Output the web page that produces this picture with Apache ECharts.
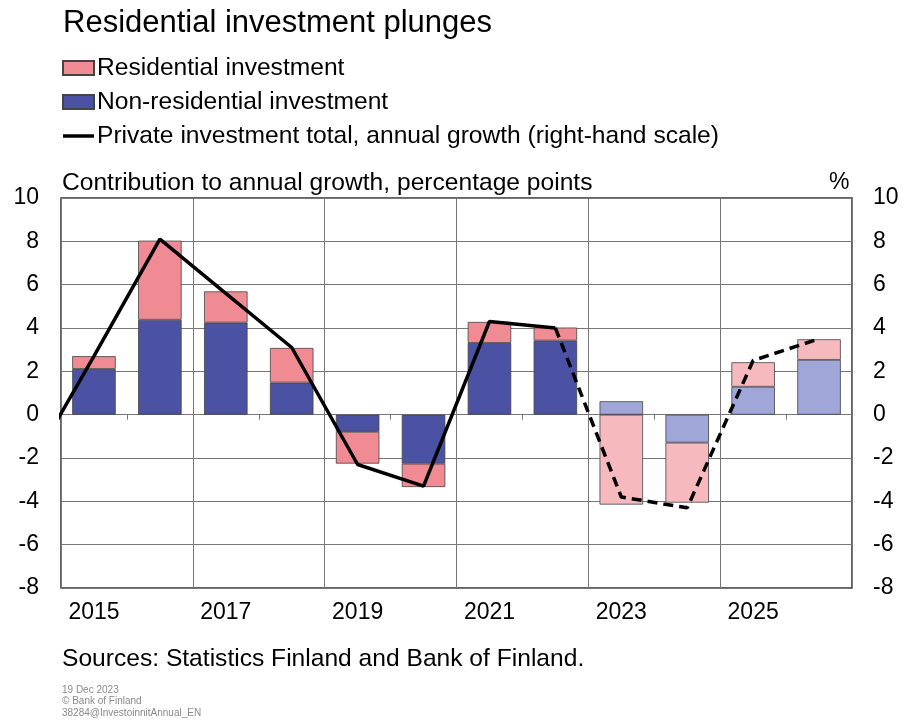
<!DOCTYPE html>
<html>
<head>
<meta charset="utf-8">
<script src="https://cdn.jsdelivr.net/npm/echarts@6/dist/echarts.min.js"></script>
<style>
  html, body { margin: 0; padding: 0; background: #fff; }
  #chart { width: 904px; height: 724px; }
</style>
</head>
<body>
<div id="chart"></div>
<script>
var years = ['2015','2016','2017','2018','2019','2020','2021','2022','2023','2024','2025','2026'];
var firstForecast = 8; // 2023 onwards drawn in pale colours
var nonResidential = [2.11, 4.38, 4.25, 1.48, -0.79, -2.26, 3.31, 3.42, 0.62, -1.29, 1.29, 2.53];
var residential    = [0.59, 3.65, 1.44, 1.60, -1.47, -1.08, 0.97, 0.60, -4.15, -2.77, 1.13, 0.95];
// private investment total, annual growth (%), right-hand scale
var growthYears = [2014, 2015, 2016, 2017, 2018, 2019, 2020, 2021, 2022, 2023, 2024, 2025, 2026];
var growth      = [-2.6, 2.7, 8.1, 5.6, 3.1, -2.3, -3.3, 4.3, 4.0, -3.8, -4.3, 2.5, 3.5];
var lastActual = 2022;
var yTicks = {min: -8, max: 10, interval: 2};

var nameRes = 'Residential investment';
var nameNonRes = 'Non-residential investment';
var nameLine = 'Private investment total, annual growth (right-hand scale)';

var pink = '#f08a93', pinkPale = '#f6b9be';
var blue = '#4b52a3', bluePale = '#a1a6d8';

function barData(vals, dark, pale){
	var out = [];
	for(var i=0;i<vals.length;i++){
		out.push({value: vals[i], itemStyle: {color: i>=firstForecast ? pale : dark}});
	}
	return out;
}
var solid = [], dashed = [];
for(var i=0;i<growthYears.length;i++){
	if(growthYears[i]<=lastActual) solid.push([growthYears[i], growth[i]]);
	if(growthYears[i]>=lastActual) dashed.push([growthYears[i], growth[i]]);
}

var font = 'Liberation Sans, Arial, sans-serif';

var option = {
	animation: false,
	textStyle: {fontFamily: font},
	title: {
		text: 'Residential investment plunges',
		left: 58, top: 3,
		textStyle: {fontSize: 31, fontWeight: 'normal', color: '#000', fontFamily: font}
	},
	legend: {
		orient: 'vertical',
		left: 62, top: 55,
		itemWidth: 31, itemHeight: 14,
		itemGap: 8,
		padding: 0,
		selectedMode: false,
		textStyle: {fontSize: 24.6, color: '#000', lineHeight: 26, padding: [0,0,0,-2]},
		data: [
			{name: nameRes, icon: 'rect'},
			{name: nameNonRes, icon: 'rect'},
			{name: nameLine, icon: 'path://M0,0H31V3.5H0Z', itemStyle: {color: '#000', borderWidth: 0}}
		]
	},
	grid: {
		left: 61, right: 52, top: 198, bottom: 136,
		show: true, borderColor: '#333', borderWidth: 1.5, backgroundColor: '#fff'
	},
	xAxis: [
		{
			type: 'category', data: years, gridIndex: 0,
			axisLine: {show: false, onZero: false},
			axisTick: {show: false, interval: 1},
			axisLabel: {interval: 1, fontSize: 23, color: '#000', margin: 13},
			splitLine: {show: true, interval: 1, lineStyle: {color: '#777', width: 1}}
		},
		{
			// small upward ticks on the zero line
			type: 'category', data: years, gridIndex: 0,
			axisLine: {show: true, onZero: true, lineStyle: {color: '#777', width: 1}},
			axisTick: {show: true, inside: true, length: 5, interval: 0, lineStyle: {color: '#777'}},
			axisLabel: {show: false},
			splitLine: {show: false}
		},
		{
			type: 'value', min: 2014.5, max: 2026.5, show: false, gridIndex: 0
		}
	],
	yAxis: [
		{
			type: 'value', min: yTicks.min, max: yTicks.max, interval: yTicks.interval,
			axisLine: {show: false}, axisTick: {show: false},
			axisLabel: {fontSize: 23, color: '#000', margin: 22},
			splitLine: {lineStyle: {color: '#777', width: 1}}
		},
		{
			type: 'value', position: 'right', min: yTicks.min, max: yTicks.max, interval: yTicks.interval,
			axisLine: {show: false}, axisTick: {show: false},
			axisLabel: {fontSize: 23, color: '#000', margin: 21},
			splitLine: {show: false}
		}
	],
	graphic: [
		{type: 'text', left: 62, top: 171, style: {text: 'Contribution to annual growth, percentage points', fontSize: 24.6, fill: '#000', fontFamily: font}},
		{type: 'text', left: 829, top: 171, style: {text: '%', fontSize: 23, fill: '#000', fontFamily: font}},
		{type: 'text', left: 62, top: 647, style: {text: 'Sources: Statistics Finland and Bank of Finland.', fontSize: 24.6, fill: '#000', fontFamily: font}},
		{type: 'text', left: 62, top: 684, style: {text: '19 Dec 2023\n\u00a9 Bank of Finland\n38284@InvestoinnitAnnual_EN', fontSize: 10, lineHeight: 11.5, fill: '#8a8a8a', fontFamily: font}}
	],
	series: [
		{
			name: nameNonRes, type: 'bar', stack: 'contrib', xAxisIndex: 0, yAxisIndex: 0,
			barWidth: '66%',
			itemStyle: {color: blue, borderColor: '#444', borderWidth: 0.8},
			data: barData(nonResidential, blue, bluePale)
		},
		{
			name: nameRes, type: 'bar', stack: 'contrib', xAxisIndex: 0, yAxisIndex: 0,
			barWidth: '66%',
			itemStyle: {color: pink, borderColor: '#444', borderWidth: 0.8},
			data: barData(residential, pink, pinkPale)
		},
		{
			name: nameLine, type: 'line', xAxisIndex: 2, yAxisIndex: 1,
			symbol: 'none', clip: true,
			lineStyle: {color: '#000', width: 3.5},
			itemStyle: {color: '#000'},
			data: solid, z: 5
		},
		{
			name: 'forecast', type: 'line', xAxisIndex: 2, yAxisIndex: 1,
			symbol: 'none', clip: true,
			lineStyle: {color: '#000', width: 3.5, type: [10, 6]},
			data: dashed, z: 5
		}
	]
};

var mychart = echarts.init(document.getElementById('chart'));
mychart.setOption(option);
</script>
</body>
</html>
